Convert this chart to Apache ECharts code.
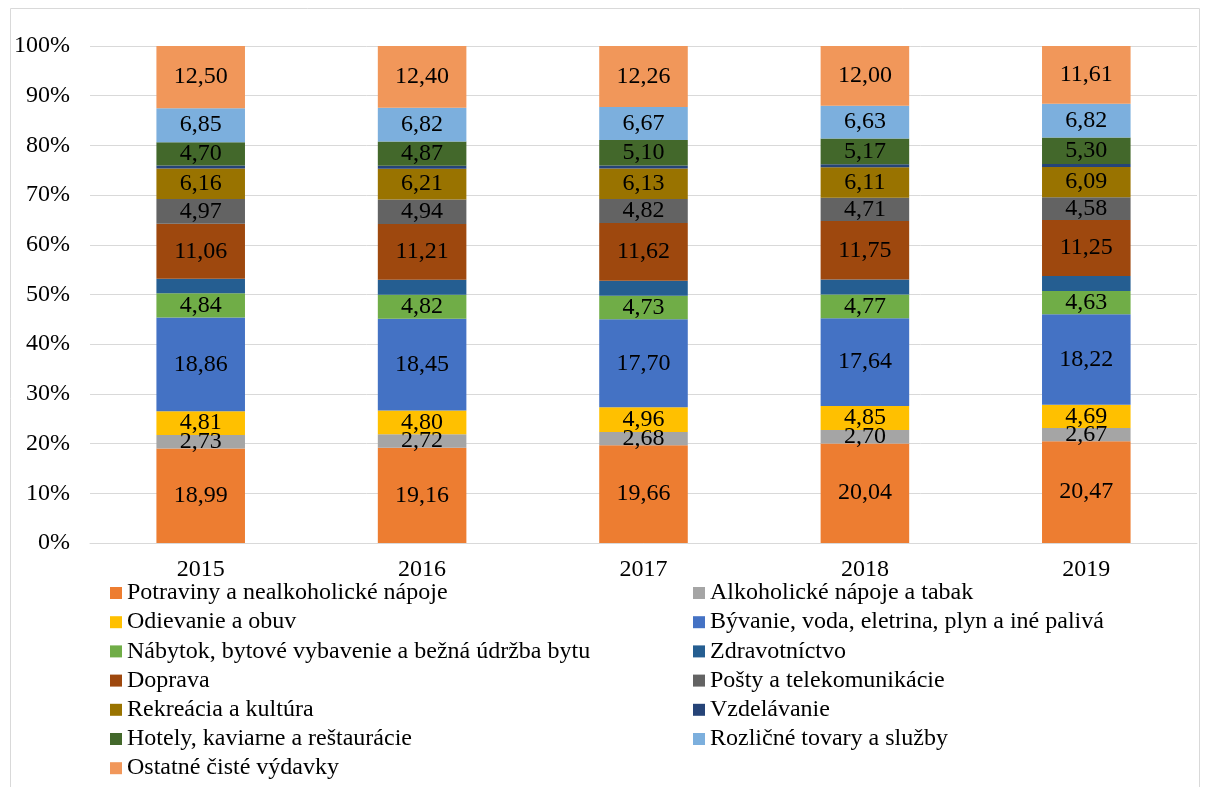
<!DOCTYPE html>
<html>
<head>
<meta charset="utf-8">
<script src="https://cdn.jsdelivr.net/npm/echarts@6/dist/echarts.min.js"></script>
<style>
  html, body { margin: 0; padding: 0; background: #fff; }
  #chart { width: 1209px; height: 787px; }
</style>
</head>
<body>
<div id="chart"></div>
<script>
// Years on the category axis
const years = ['2015', '2016', '2017', '2018', '2019'];

// Shares of household spending (%) per category and year
const potraviny     = [18.99, 19.16, 19.66, 20.04, 20.47];
const alkohol       = [2.73, 2.72, 2.68, 2.70, 2.67];
const odievanie     = [4.81, 4.80, 4.96, 4.85, 4.69];
const byvanie       = [18.86, 18.45, 17.70, 17.64, 18.22];
const nabytok       = [4.84, 4.82, 4.73, 4.77, 4.63];
const zdravotnictvo = [2.95, 3.00, 3.05, 3.02, 3.05];
const doprava       = [11.06, 11.21, 11.62, 11.75, 11.25];
const posty         = [4.97, 4.94, 4.82, 4.71, 4.58];
const rekreacia     = [6.16, 6.21, 6.13, 6.11, 6.09];
const vzdelavanie   = [0.58, 0.60, 0.62, 0.61, 0.62];
const hotely        = [4.70, 4.87, 5.10, 5.17, 5.30];
const rozlicne      = [6.85, 6.82, 6.67, 6.63, 6.82];
const ostatne       = [12.50, 12.40, 12.26, 12.00, 11.61];

// Y axis tick labels
const yTicks = ['0%', '10%', '20%', '30%', '40%', '50%', '60%', '70%', '80%', '90%', '100%'];

const seriesDefs = [
  { name: 'Potraviny a nealkoholické nápoje', data: potraviny, color: '#ED7D31', label: true },
  { name: 'Alkoholické nápoje a tabak', data: alkohol, color: '#A5A5A5', label: true },
  { name: 'Odievanie a obuv', data: odievanie, color: '#FFC000', label: true },
  { name: 'Bývanie, voda, eletrina, plyn a iné palivá', data: byvanie, color: '#4472C4', label: true },
  { name: 'Nábytok, bytové vybavenie a bežná údržba bytu', data: nabytok, color: '#70AD47', label: true },
  { name: 'Zdravotníctvo', data: zdravotnictvo, color: '#255E91', label: false },
  { name: 'Doprava', data: doprava, color: '#9E480E', label: true },
  { name: 'Pošty a telekomunikácie', data: posty, color: '#636363', label: true },
  { name: 'Rekreácia a kultúra', data: rekreacia, color: '#997300', label: true },
  { name: 'Vzdelávanie', data: vzdelavanie, color: '#264478', label: false },
  { name: 'Hotely, kaviarne a reštaurácie', data: hotely, color: '#43682B', label: true },
  { name: 'Rozličné tovary a služby', data: rozlicne, color: '#7CAFDD', label: true },
  { name: 'Ostatné čisté výdavky', data: ostatne, color: '#F1975A', label: true }
];

// Each year's shares scaled to a 100% column
const totals = years.map((_, i) => seriesDefs.reduce((s, d) => s + d.data[i], 0));

const FONT = '"Liberation Serif", "Times New Roman", serif';
const FS = 24;

const series = seriesDefs.map(d => ({
  name: d.name,
  type: 'bar',
  stack: 'total',
  barWidth: '40%',
  itemStyle: { color: d.color },
  data: d.data.map((v, i) => ({ value: v / totals[i] * 100, raw: v })),
  label: {
    show: d.label,
    position: 'inside',
    color: '#000',
    fontFamily: FONT,
    fontSize: FS,
    formatter: p => p.data.raw.toFixed(2).replace('.', ',')
  },
  emphasis: { disabled: true }
}));

const leftNames = seriesDefs.filter((_, i) => i % 2 === 0).map(d => d.name);
const rightNames = seriesDefs.filter((_, i) => i % 2 === 1).map(d => d.name);

const legendCommon = {
  orient: 'vertical',
  itemWidth: 12,
  itemHeight: 12,
  itemGap: 5.2,
  icon: 'rect',
  padding: 0,
  textStyle: { color: '#000', fontFamily: FONT, fontSize: FS, lineHeight: 24 },
  selectedMode: false
};

const chart = echarts.init(document.getElementById('chart'));
chart.setOption({
  animation: false,
  color: seriesDefs.map(d => d.color),
  grid: { left: 90, right: 12, top: 46, bottom: 244, containLabel: false },
  xAxis: {
    type: 'category',
    data: years,
    axisLine: { lineStyle: { color: '#D9D9D9', width: 1 } },
    axisTick: { show: false },
    axisLabel: { color: '#000', fontFamily: FONT, fontSize: FS, margin: 15 }
  },
  yAxis: {
    type: 'value',
    min: 0,
    max: 100,
    interval: 10,
    axisLine: { show: false },
    axisTick: { show: false },
    splitLine: { lineStyle: { color: '#D9D9D9', width: 1 } },
    axisLabel: {
      color: '#000',
      fontFamily: FONT,
      fontSize: FS,
      margin: 20,
      formatter: v => yTicks[Math.round(v / 10)]
    }
  },
  legend: [
    Object.assign({ left: 110, top: 581, data: leftNames }, legendCommon),
    Object.assign({ left: 693, top: 581, data: rightNames }, legendCommon)
  ],
  graphic: [{
    type: 'rect',
    shape: { x: 10.5, y: 8.5, width: 1189, height: 790 },
    style: { fill: 'none', stroke: '#D9D9D9', lineWidth: 1 },
    silent: true
  }],
  series: series
});
</script>
</body>
</html>
